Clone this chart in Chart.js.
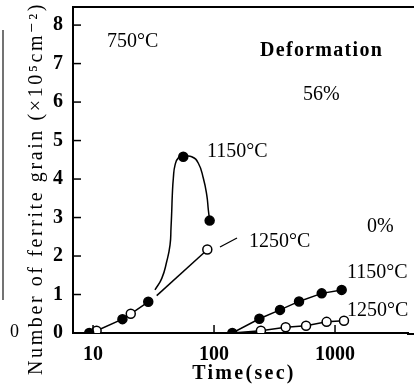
<!DOCTYPE html>
<html>
<head>
<meta charset="utf-8">
<script src="https://cdn.jsdelivr.net/npm/chart.js@4"></script>
<style>
  html, body { margin: 0; padding: 0; background: #fff; }
  canvas { display: block; }
</style>
</head>
<body>
<canvas id="grain" width="414" height="385"></canvas>
<script>
// 56% deformation
const def56Time = [9.3, 10.7, 17.5, 20.5, 28.6];
const def56Value = [0, 0.06, 0.36, 0.5, 0.81];
const def56FilledTime = [9.3, 17.5, 28.6, 55.7, 92];
const def56FilledValue = [0, 0.36, 0.81, 4.58, 2.92];
const def56OpenTime = [10.7, 20.5, 88];
const def56OpenValue = [0.06, 0.5, 2.17];
// 1150C branch
const curve1150Time = [32.5, 37.0, 40.6, 43.3, 44.1, 44.7, 45.2, 46.1, 47.6, 50.7, 55.7, 65.4, 74.2, 81.6, 87.1, 89.8, 92];
const curve1150Value = [1.12, 1.42, 1.85, 2.29, 2.73, 3.15, 3.58, 4.02, 4.36, 4.55, 4.58, 4.58, 4.41, 4.02, 3.58, 3.19, 2.92];
const branch1250Time = [33.6, 84.3];
const branch1250Value = [0.97, 2.11];

// 0% deformation
const def0FilledTime = [141.6, 237, 351, 504, 776, 1135];
const def0FilledValue = [0, 0.37, 0.6, 0.82, 1.03, 1.12];
const def0OpenTime = [141.6, 244, 391, 576, 852, 1186];
const def0OpenValue = [0, 0.06, 0.15, 0.19, 0.29, 0.32];

const xTicks = [10, 100, 1000];
const yTicks = [0, 1, 2, 3, 4, 5, 6, 7, 8];

const pts = (xs, ys) => xs.map((x, i) => ({ x: x, y: ys[i] }));
const SERIF = '"Liberation Serif", "DejaVu Serif", serif';

function lineSet(data, tension) {
	return { data: data, showLine: true, pointRadius: 0, borderColor: '#000', borderWidth: 1.5, tension: tension || 0, order: 2 };
}
function markSet(data, filled) {
	return { data: data, showLine: false, pointRadius: 4.5, pointHoverRadius: 4.5, pointBorderWidth: 1.5,
		pointBorderColor: '#000', pointBackgroundColor: filled ? '#000' : '#fff', order: 1 };
}

const labels = [
	{ text: '750°C', x: 107, y: 47 },
	{ text: 'Deformation', x: 260, y: 56, spacing: 1.3, bold: true },
	{ text: '56%', x: 303, y: 100 },
	{ text: '1150°C', x: 207, y: 157 },
	{ text: '1250°C', x: 249, y: 247 },
	{ text: '0%', x: 367, y: 232 },
	{ text: '1150°C', x: 347, y: 278 },
	{ text: '1250°C', x: 347, y: 316 }
];

const decor = {
	id: 'decor',
	afterDraw(chart) {
		const ctx = chart.ctx;
		const xs = chart.scales.x, ys = chart.scales.y;
		const area = chart.chartArea;
		const W = chart.width;
		ctx.save();
		ctx.strokeStyle = '#000';
		ctx.fillStyle = '#000';
		// top frame line and the axis running on to the page edge
		ctx.lineWidth = 2;
		ctx.beginPath();
		ctx.moveTo(area.left - 1, area.top);
		ctx.lineTo(W, area.top);
		ctx.moveTo(area.right - 1, area.bottom + 1);
		ctx.lineTo(W, area.bottom + 1);
		ctx.stroke();
		// inward ticks
		ctx.lineWidth = 1.5;
		yTicks.forEach(v => {
			const py = ys.getPixelForValue(v);
			ctx.beginPath();
			ctx.moveTo(area.left, py);
			ctx.lineTo(area.left + 8, py);
			ctx.stroke();
		});
		xTicks.forEach(v => {
			const px = xs.getPixelForValue(v);
			ctx.beginPath();
			ctx.moveTo(px, area.bottom);
			ctx.lineTo(px, area.bottom - 8);
			ctx.stroke();
		});
		// annotations
		ctx.textBaseline = 'alphabetic';
		ctx.textAlign = 'left';
		labels.forEach(l => {
			ctx.font = (l.bold ? 'bold ' : '') + '20px ' + SERIF;
			ctx.letterSpacing = (l.spacing || 0) + 'px';
			ctx.fillText(l.text, l.x, l.y);
		});
		// leader to the 1250C label
		ctx.lineWidth = 1.3;
		ctx.beginPath();
		ctx.moveTo(220, 247);
		ctx.lineTo(237, 238);
		ctx.stroke();
		// axis titles
		ctx.font = 'bold 20px ' + SERIF;
		ctx.letterSpacing = '2.3px';
		ctx.textAlign = 'center';
		ctx.fillText('Time(sec)', 244, 379);
		ctx.save();
		ctx.translate(42, 375);
		ctx.rotate(-Math.PI / 2);
		ctx.textAlign = 'left';
		ctx.font = '20px ' + SERIF;
		ctx.letterSpacing = '2.6px';
		ctx.fillText('Number of ferrite grain (×10⁵cm⁻²)', 0, 0);
		ctx.restore();
		// edge of the neighbouring figure
		ctx.lineWidth = 1.5;
		ctx.strokeStyle = '#444';
		ctx.beginPath();
		ctx.moveTo(3, 30);
		ctx.lineTo(3, 300);
		ctx.stroke();
		ctx.letterSpacing = '0px';
		ctx.textAlign = 'left';
		ctx.font = '18px ' + SERIF;
		ctx.fillText('0', 10, 337);
		ctx.restore();
	}
};

new Chart(document.getElementById('grain').getContext('2d'), {
	type: 'scatter',
	data: {
		datasets: [
			markSet(pts(def56FilledTime, def56FilledValue), true),
			markSet(pts(def56OpenTime, def56OpenValue), false),
			markSet(pts(def0FilledTime, def0FilledValue), true),
			markSet(pts(def0OpenTime.slice(1), def0OpenValue.slice(1)), false),
			lineSet(pts(def56Time, def56Value)),
			lineSet(pts(curve1150Time, curve1150Value), 0.5),
			lineSet(pts(branch1250Time, branch1250Value)),
			lineSet(pts(def0FilledTime, def0FilledValue)),
			lineSet(pts(def0OpenTime, def0OpenValue))
		]
	},
	options: {
		responsive: false,
		animation: false,
		devicePixelRatio: 1,
		layout: { padding: { top: 7, right: 0, left: 0, bottom: 0 } },
		plugins: { legend: { display: false }, tooltip: { enabled: false } },
		scales: {
			x: {
				type: 'logarithmic',
				min: 6.83,
				max: 4010,
				grid: { display: false, drawTicks: false },
				border: { display: true, color: '#000', width: 2 },
				afterBuildTicks: s => { s.ticks = xTicks.map(v => ({ value: v })); },
				afterFit: s => { s.height = 52; s.paddingLeft = 0; s.paddingRight = 0; },
				ticks: {
					autoSkip: false, maxRotation: 0, padding: 10, color: '#000',
					font: { family: SERIF, size: 20, weight: 'bold' },
					callback: v => String(v)
				}
			},
			y: {
				min: 0,
				max: 8.47,
				grid: { display: false, drawTicks: false },
				border: { display: true, color: '#000', width: 2 },
				afterBuildTicks: s => { s.ticks = yTicks.map(v => ({ value: v })); },
				afterFit: s => { s.width = 73; s.paddingTop = 0; s.paddingBottom = 0; },
				ticks: {
					padding: 10, color: '#000',
					font: { family: SERIF, size: 20, weight: 'bold' }
				}
			}
		}
	},
	plugins: [decor]
});
</script>
</body>
</html>
